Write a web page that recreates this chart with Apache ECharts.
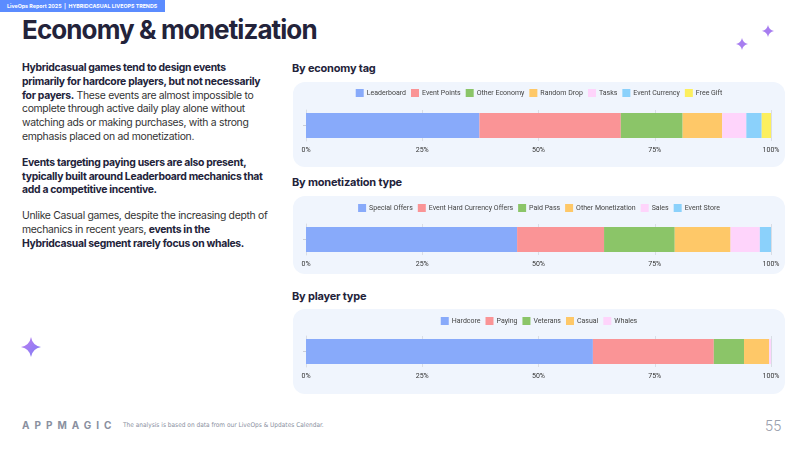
<!DOCTYPE html>
<html>
<head>
<meta charset="utf-8">
<script src="https://cdn.jsdelivr.net/npm/echarts@6/dist/echarts.min.js"></script>
<style>
  html, body { margin: 0; padding: 0; }
  body { width: 800px; height: 450px; position: relative; background: #fff; font-family: Inter, "Noto Sans", sans-serif; color: #23233a; overflow: hidden; }
  .badge { position: absolute; left: 0; top: 0; width: 165px; height: 12px; background: #5b8cff; color: #fff; font-size: 5.3px; font-weight: 700; line-height: 12px; padding-left: 7px; box-sizing: border-box; white-space: nowrap; overflow: hidden; }
  .title { position: absolute; left: 22px; top: 14px; font-size: 26px; font-weight: 700; letter-spacing: -0.9px; white-space: nowrap; }
  .text { position: absolute; left: 22px; top: 61px; font-size: 10.4px; line-height: 13.8px; color: #333; letter-spacing: -0.3px; white-space: nowrap; }
  .text p { margin: 0 0 12px 0; }
  .text b { color: #23233a; font-weight: 700; }
  .section { position: absolute; left: 292px; font-size: 11px; font-weight: 700; color: #23233a; letter-spacing: -0.2px; }
  .card { position: absolute; left: 293px; width: 492px; background: #f0f5fd; border-radius: 12px; }
  .footer-logo { position: absolute; left: 22px; top: 419px; font-size: 10px; font-weight: 700; letter-spacing: 5px; color: #8a90a0; }
  .footer-text { position: absolute; left: 123px; top: 421px; font-size: 6.5px; color: #8a90a0; font-family: "Liberation Sans Narrow", "DejaVu Sans Condensed", sans-serif; }
  .page { position: absolute; left: 765px; top: 417px; font-size: 14px; color: #9aa0ad; font-weight: 300; }
  .star { position: absolute; }
</style>
</head>
<body>
<div class="badge">LiveOps Report 2025 &nbsp;|&nbsp; HYBRIDCASUAL LIVEOPS TRENDS</div>
<div class="title">Economy &amp; monetization</div>

<div class="text">
  <p><b>Hybridcasual games tend to design events<br>primarily for hardcore players, but not necessarily<br>for payers.</b> These events are almost impossible to<br>complete through active daily play alone without<br>watching ads or making purchases, with a strong<br>emphasis placed on ad monetization.</p>
  <p><b>Events targeting paying users are also present,<br>typically built around Leaderboard mechanics that<br>add a competitive incentive.</b></p>
  <p>Unlike Casual games, despite the increasing depth of<br>mechanics in recent years, <b>events in the<br>Hybridcasual segment rarely focus on whales.</b></p>
</div>

<div class="section" style="top:61px;">By economy tag</div>
<div class="card" id="c1" style="top:82px;height:85px;"></div>
<div class="section" style="top:175px;">By monetization type</div>
<div class="card" id="c2" style="top:196px;height:78px;"></div>
<div class="section" style="top:289px;">By player type</div>
<div class="card" id="c3" style="top:309px;height:85px;"></div>

<svg class="star" style="left:734px;top:36px;" width="16" height="16" viewBox="-8 -8 16 16"><path d="M0,-6 Q1,-1 6,0 Q1,1 0,6 Q-1,1 -6,0 Q-1,-1 0,-6Z" fill="#a77df0"/></svg>
<svg class="star" style="left:760px;top:23px;" width="16" height="16" viewBox="-8 -8 16 16"><path d="M0,-6 Q1,-1 6,0 Q1,1 0,6 Q-1,1 -6,0 Q-1,-1 0,-6Z" fill="#a77df0"/></svg>
<svg class="star" style="left:20px;top:336px;" width="22" height="22" viewBox="-11 -11 22 22">
  <defs><linearGradient id="g" x1="0" y1="0" x2="1" y2="1"><stop offset="0" stop-color="#c07ef0"/><stop offset="1" stop-color="#7b7cf5"/></linearGradient></defs>
  <path d="M0,-10 Q1.5,-1.5 10,0 Q1.5,1.5 0,10 Q-1.5,1.5 -10,0 Q-1.5,-1.5 0,-10Z" fill="url(#g)"/>
</svg>

<div class="footer-logo">APPMAGIC</div>
<div class="footer-text">The analysis is based on data from our LiveOps &amp; Updates Calendar.</div>
<div class="page">55</div>

<script>
// percent shares
const economyNames = ['Leaderboard', 'Event Points', 'Other Economy', 'Random Drop', 'Tasks', 'Event Currency', 'Free Gift'];
const economyValues = [37.3, 30.4, 13.3, 8.5, 5.2, 3.3, 2.0];
const economyColors = ['#88aafa', '#fa9496', '#8bc568', '#fec868', '#fed4fb', '#8bd1fb', '#fcef5e'];

const monetNames = ['Special Offers', 'Event Hard Currency Offers', 'Paid Pass', 'Other Monetization', 'Sales', 'Event Store'];
const monetValues = [45.4, 18.7, 15.2, 12.0, 6.3, 2.4];
const monetColors = ['#88aafa', '#fa9496', '#8bc568', '#fec868', '#fed4fb', '#8bd1fb'];

const playerNames = ['Hardcore', 'Paying', 'Veterans', 'Casual', 'Whales'];
const playerValues = [61.7, 26.0, 6.5, 5.4, 0.4];
const playerColors = ['#88aafa', '#fa9496', '#8bc568', '#fec868', '#fed4fb'];

const tickLabels = ['0%', '25%', '50%', '75%', '100%'];

function makeChart(el, names, values, colors, gridTop, legendTop) {
  const chart = echarts.init(document.getElementById(el));
  const series = names.map((n, i) => ({
    name: n,
    type: 'bar',
    stack: 'all',
    barWidth: 25,
    data: [values[i]],
    itemStyle: { color: colors[i] },
    emphasis: { disabled: true }
  }));
  chart.setOption({
    animation: false,
    textStyle: { fontFamily: 'Roboto, sans-serif' },
    color: colors,
    legend: {
      top: legendTop,
      left: 'center',
      itemWidth: 8,
      itemHeight: 8,
      itemGap: 5,
      icon: 'rect',
      textStyle: { fontSize: 7, color: '#444', padding: [0, 0, 0, -2] },
      data: names
    },
    grid: { left: 13, right: 14, top: gridTop, height: 31 },
    xAxis: {
      type: 'value',
      min: 0,
      max: 100,
      interval: 25,
      axisLine: { show: false },
      axisTick: { show: false },
      splitLine: { show: true, lineStyle: { color: '#d9dde5' } },
      axisLabel: {
        fontSize: 7,
        color: '#333',
        margin: 6,
        formatter: v => tickLabels[v / 25]
      }
    },
    yAxis: {
      type: 'category',
      data: [''],
      axisLine: { show: true, lineStyle: { color: '#d9dde5' } },
      axisTick: { show: true, alignWithLabel: true, length: 3, lineStyle: { color: '#c9ced8' } },
      axisLabel: { show: false }
    },
    series: series
  });
}

makeChart('c1', economyNames, economyValues, economyColors, 28, 2);
makeChart('c2', monetNames, monetValues, monetColors, 28, 3);
makeChart('c3', playerNames, playerValues, playerColors, 27, 3);
</script>
</body>
</html>
